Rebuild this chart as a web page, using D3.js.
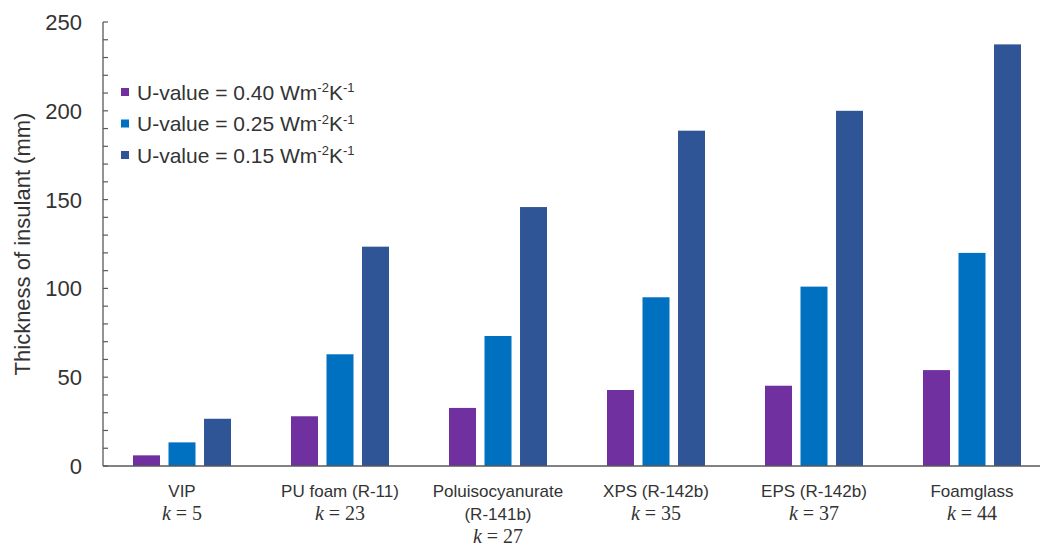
<!DOCTYPE html>
<html>
<head>
<meta charset="utf-8">
<script src="https://cdn.jsdelivr.net/npm/d3@7"></script>
<style>
    body { margin: 0; background: #fff; }
    text { font-family: "Liberation Sans", Arial, sans-serif; fill: #222; }
    .klab { font-family: "Liberation Serif", "Times New Roman", serif; }
</style>
</head>
<body>
<script>
//chart data
var materials = ["VIP", "PU foam (R-11)", "Poluisocyanurate|(R-141b)", "XPS (R-142b)", "EPS (R-142b)", "Foamglass"];
var kValues = [5, 23, 27, 35, 37, 44];
var seriesNames = ["0.40", "0.25", "0.15"];
var u040 = [6, 28, 32.7, 42.8, 45.2, 54];
var u025 = [13.3, 62.9, 73.2, 95, 101, 120];
var u015 = [26.6, 123.5, 145.8, 188.8, 200, 237.4];
var yTicks = [0, 50, 100, 150, 200, 250];
var colors = ["#7030A0", "#0070C0", "#2F5597"];

window.onload = drawChart();

function drawChart(){
    var width = 1045,
        height = 547;
    var margin = {top: 22, left: 103, bottom: 81};

    var svg = d3.select("body")
        .append("svg")
        .attr("width", width)
        .attr("height", height);

    var series = [u040, u025, u015];

    //scales
    var x0 = d3.scaleBand()
        .domain(materials)
        .range([margin.left, margin.left + 6 * 158]);

    //3 bars of 27px with 8.5px gaps
    var x1 = d3.scaleBand()
        .domain(seriesNames)
        .range([0, 98])
        .paddingInner(0.24);

    var y = d3.scaleLinear()
        .domain([0, 250])
        .range([height - margin.bottom, margin.top]);

    //bars
    var groups = svg.selectAll(".group")
        .data(materials)
        .enter()
        .append("g")
        .attr("class", "group")
        .attr("transform", function(d){
            return "translate(" + (x0(d) + x0.bandwidth() / 2 - 49) + ",0)";
        });

    groups.selectAll("rect")
        .data(function(d, i){
            return seriesNames.map(function(s, j){ return {s: s, v: series[j][i], j: j}; });
        })
        .enter()
        .append("rect")
        .attr("x", function(d){ return x1(d.s); })
        .attr("width", x1.bandwidth())
        .attr("y", function(d){ return y(d.v); })
        .attr("height", function(d){ return y(0) - y(d.v); })
        .attr("fill", function(d){ return colors[d.j]; });

    //y axis with minor ticks every 10, inward
    var yAxis = svg.append("g")
        .attr("transform", "translate(" + margin.left + ",0)");
    yAxis.append("line")
        .attr("y1", y(0)).attr("y2", y(250))
        .attr("stroke", "#595959").attr("stroke-width", 1.3);
    yAxis.selectAll(".tick")
        .data(d3.range(0, 251, 10))
        .enter()
        .append("line")
        .attr("x1", 0).attr("x2", 5)
        .attr("y1", function(d){ return y(d); })
        .attr("y2", function(d){ return y(d); })
        .attr("stroke", "#595959").attr("stroke-width", 1.2);
    yAxis.selectAll(".ylab")
        .data(yTicks)
        .enter()
        .append("text")
        .attr("x", -21)
        .attr("y", function(d){ return y(d); })
        .attr("dy", "0.36em")
        .attr("text-anchor", "end")
        .style("font-size", "22px")
        .style("fill", "#333")
        .text(function(d){ return d; });

    //x baseline
    svg.append("line")
        .attr("x1", margin.left).attr("x2", width - 5)
        .attr("y1", y(0)).attr("y2", y(0))
        .attr("stroke", "#595959").attr("stroke-width", 1.3);

    //y title
    svg.append("text")
        .attr("transform", "translate(30," + (y(0) + y(250)) / 2 + ") rotate(-90)")
        .attr("text-anchor", "middle")
        .style("font-size", "22px")
        .style("fill", "#333")
        .text("Thickness of insulant (mm)");

    //category labels
    materials.forEach(function(m, i){
        var cx = x0(m) + x0.bandwidth() / 2;
        var lines = m.split("|");
        lines.forEach(function(l, li){
            svg.append("text")
                .attr("x", cx)
                .attr("y", 497 + li * 23)
                .attr("text-anchor", "middle")
                .style("font-size", "17px")
                .style("fill", "#333")
                .text(l);
        });
        var kt = svg.append("text")
            .attr("class", "klab")
            .attr("x", cx)
            .attr("y", 520 + (lines.length - 1) * 23)
            .attr("text-anchor", "middle")
            .style("font-size", "20px")
            .style("fill", "#333");
        kt.append("tspan").style("font-style", "italic").text("k");
        kt.append("tspan").text(" = " + kValues[i]);
    });

    //legend
    var legend = svg.selectAll(".legend")
        .data(seriesNames)
        .enter()
        .append("g")
        .attr("class", "legend")
        .attr("transform", function(d, i){ return "translate(121," + (92 + i * 31.5) + ")"; });
    legend.append("rect")
        .attr("x", 0).attr("y", -4)
        .attr("width", 8).attr("height", 8)
        .attr("fill", function(d, i){ return colors[i]; });
    var lt = legend.append("text")
        .attr("x", 16)
        .attr("dy", 7.5)
        .style("font-size", "21px")
        .style("fill", "#333");
    lt.append("tspan").text(function(d){ return "U-value = " + d + " Wm"; });
    lt.append("tspan").attr("dy", -7.5).style("font-size", "13px").text("-2");
    lt.append("tspan").attr("dy", 7.5).text("K");
    lt.append("tspan").attr("dy", -7.5).style("font-size", "13px").text("-1");
};
</script>
</body>
</html>
